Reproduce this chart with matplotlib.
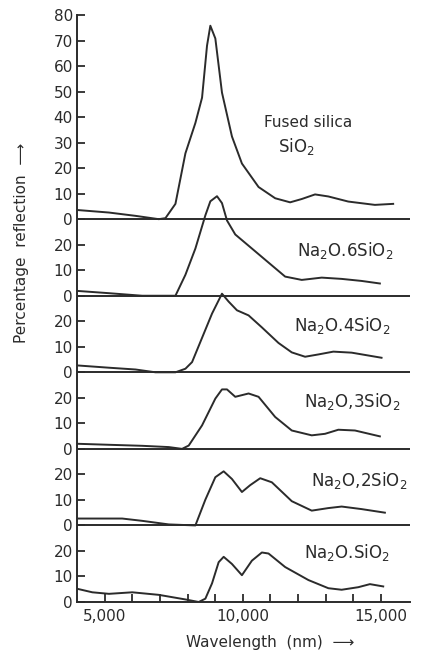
import matplotlib
matplotlib.use('Agg')
import matplotlib.pyplot as plt

# Reflection spectra, one panel per glass (wavelength in nm, % reflection)
labels = ['Fused silica\nSiO$_2$', 'Na$_2$O.6SiO$_2$', 'Na$_2$O.4SiO$_2$',
          'Na$_2$O,3SiO$_2$', 'Na$_2$O,2SiO$_2$', 'Na$_2$O.SiO$_2$']

wl_sio2 = [4000, 5156, 6118, 6960, 7200, 7562, 7923, 8284, 8525, 8705, 8825, 9006,
           9246, 9607, 9968, 10570, 11171, 11712, 12133, 12614, 13096, 13817, 14780, 15441]
r_sio2 = [3.6, 2.6, 1.3, 0.0, 0.4, 6.0, 25.8, 37.7, 47.6, 68.0, 75.8, 70.8,
          49.6, 32.4, 21.8, 12.6, 8.2, 6.6, 7.9, 9.7, 8.9, 6.9, 5.6, 6.0]

wl_6 = [4000, 5156, 6359, 7562, 7923, 8284, 8645, 8825, 9066, 9246, 9427, 9727,
        10329, 10930, 11532, 12133, 12855, 13577, 14299, 14960]
r_6 = [1.9, 1.0, 0.0, 0.0, 8.2, 18.5, 31.5, 37.0, 39.0, 36.3, 29.5, 24.0,
       18.5, 13.0, 7.5, 6.2, 7.1, 6.6, 5.8, 4.8]

wl_4 = [4000, 5156, 6118, 6840, 7562, 7923, 8164, 8525, 8886, 9246, 9487, 9788,
        10209, 10690, 11291, 11772, 12254, 12735, 13276, 13938, 15020]
r_4 = [2.7, 1.8, 1.1, 0.0, 0.0, 1.4, 4.0, 13.5, 23.0, 30.8, 27.7, 24.3,
       22.3, 17.6, 11.5, 7.8, 6.1, 7.0, 8.1, 7.7, 5.7]

wl_3 = [4000, 5156, 6359, 7321, 7802, 8043, 8525, 9006, 9246, 9427, 9727, 10209,
        10570, 11171, 11772, 12494, 12975, 13457, 14058, 14960]
r_3 = [2.0, 1.6, 1.2, 0.7, 0.0, 1.3, 9.2, 19.7, 23.3, 23.3, 20.4, 21.7,
       20.4, 12.5, 7.2, 5.3, 5.9, 7.5, 7.2, 4.9]

wl_2 = [4000, 5637, 6359, 7321, 8284, 8645, 9006, 9307, 9607, 9968, 10269, 10630,
        11051, 11772, 12494, 13096, 13577, 14299, 15141]
r_2 = [2.7, 2.7, 1.8, 0.4, 0.0, 10.1, 18.9, 21.2, 18.2, 13.1, 15.8, 18.5,
       16.9, 9.5, 5.8, 6.8, 7.4, 6.4, 5.0]

wl_1 = [4000, 4555, 5156, 6000, 6960, 7923, 8404, 8645, 8886, 9126, 9307, 9607,
        9968, 10329, 10690, 10930, 11532, 12374, 13096, 13577, 14178, 14600, 15081]
r_1 = [5.2, 3.8, 3.2, 3.8, 2.8, 1.0, 0.0, 1.3, 7.3, 15.6, 17.7, 14.9,
       10.5, 16.2, 19.4, 19.0, 13.7, 8.6, 5.4, 4.8, 5.8, 7.0, 6.1]

wls = [wl_sio2, wl_6, wl_4, wl_3, wl_2, wl_1]
refl = [r_sio2, r_6, r_4, r_3, r_2, r_1]
offsets = [150, 120, 90, 60, 30, 0]   # vertical shift of each panel

ink = '#2b2b2b'
fs = 11

fig = plt.figure(figsize=(4.22, 6.57), dpi=100)
ax = fig.add_axes([77/422, 1 - 602/657, 333/422, 587/657])

for x, y, off in zip(wls, refl, offsets):
    ax.plot(x, [v + off for v in y], color=ink, lw=1.4)
    if off > 0:
        ax.axhline(off, color=ink, lw=1.4)

ax.set_xlim(4000, 16050)
ax.set_ylim(0, 230)

# y ticks: 0-80 on top panel, 0-20 on the others
yt, yl = [], []
for v in range(0, 90, 10):
    yt.append(150 + v)
    yl.append(str(v))
for off in offsets[1:]:
    for v in (0, 10, 20):
        yt.append(off + v)
        yl.append(str(v))
ax.set_yticks(yt)
ax.set_yticklabels(yl)

ax.set_xticks([5000, 10000, 15000])
ax.set_xticklabels(['5,000', '10,000', '15,000'])
ax.set_xticks(range(5000, 16000, 1000), minor=True)

ax.tick_params(axis='both', which='both', direction='in', length=6, width=1.3,
               colors=ink, labelsize=fs, pad=5)
ax.tick_params(axis='y', pad=3)
for s in ('top', 'right'):
    ax.spines[s].set_visible(False)
for s in ('left', 'bottom'):
    ax.spines[s].set_color(ink)
    ax.spines[s].set_linewidth(1.4)

# panel labels
ax.text(12365, 187.7, 'Fused silica', fontsize=fs, color=ink, ha='center', va='center')
ax.text(11270, 178.3, 'SiO$_2$', fontsize=fs + 1, color=ink, ha='left', va='center')
label_pos = [(13700, 137.9), (13590, 108.5), (13950, 78.4), (14200, 47.8), (13770, 19.2)]
for (lx, ly), lab in zip(label_pos, labels[1:]):
    ax.text(lx, ly, lab, fontsize=fs + 1, color=ink, ha='center', va='center')

fig.text(22/422, 1 - 243/657, 'Percentage  reflection  \u27f6', rotation=90,
         fontsize=fs, color=ink, ha='center', va='center')
fig.text(270/422, 1 - 642/657, 'Wavelength  (nm)  \u27f6', fontsize=fs,
         color=ink, ha='center', va='center')

fig.savefig('out.png', dpi=100, facecolor='white')
